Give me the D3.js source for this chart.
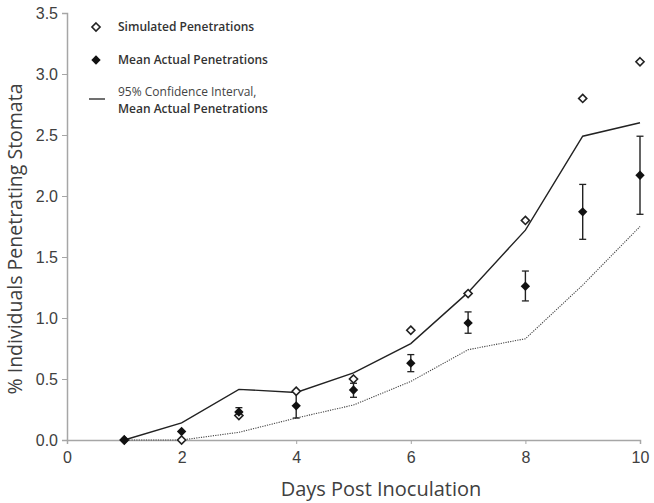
<!DOCTYPE html>
<html>
<head>
<meta charset="utf-8">
<script src="https://cdn.jsdelivr.net/npm/d3@7"></script>
<style>
  html, body { margin: 0; padding: 0; background: #fff; }
  svg { display: block; font-family: "Open Sans", "Noto Sans", sans-serif; }
</style>
</head>
<body>
<svg id="chart" width="654" height="503"></svg>
<script>
// data
const days = [1, 2, 3, 4, 5, 6, 7, 8, 9, 10];
const simulated = [0, 0, 0.20, 0.40, 0.50, 0.90, 1.20, 1.80, 2.80, 3.10];
const actualMean = [0, 0.07, 0.23, 0.28, 0.41, 0.63, 0.96, 1.26, 1.87, 2.17];
const actualLow = [0, 0.07, 0.20, 0.18, 0.35, 0.56, 0.875, 1.14, 1.645, 1.85];
const actualHigh = [0, 0.07, 0.265, 0.40, 0.465, 0.70, 1.05, 1.385, 2.095, 2.49];
const ciUpper = [0, 0.14, 0.415, 0.39, 0.55, 0.79, 1.21, 1.72, 2.49, 2.60];
const ciLower = [0, 0, 0.063, 0.18, 0.287, 0.48, 0.74, 0.83, 1.27, 1.75];
const xTicks = [0, 2, 4, 6, 8, 10];
const yTicks = [0, 0.5, 1, 1.5, 2, 2.5, 3, 3.5];

const svg = d3.select('#chart');
const margin = { top: 13, right: 14, bottom: 63, left: 67 };
const width = 654 - margin.left - margin.right;
const height = 503 - margin.top - margin.bottom;

const x = d3.scaleLinear().domain([0, 10]).range([0, width]);
const y = d3.scaleLinear().domain([0, 3.5]).range([height, 0]);

const g = svg.append('g').attr('transform', `translate(${margin.left},${margin.top})`);

const axisColor = '#a6a6a6';
const textColor = '#404040';

// axes
const xAxis = g.append('g')
  .attr('transform', `translate(0,${height})`)
  .call(d3.axisBottom(x).tickValues(xTicks).tickSize(4).tickPadding(8).tickFormat(d3.format('d')));
const yAxis = g.append('g')
  .call(d3.axisLeft(y).tickValues(yTicks).tickSize(5).tickPadding(4).tickFormat(d3.format('.1f')));

[xAxis, yAxis].forEach(a => {
  a.select('.domain').attr('stroke', axisColor).attr('stroke-width', 1.5);
  a.selectAll('.tick line').attr('stroke', axisColor);
  a.selectAll('.tick text')
    .attr('fill', textColor)
    .style('font-size', '16px');
});

// axis titles
svg.append('text')
  .attr('x', 381).attr('y', 496)
  .attr('text-anchor', 'middle')
  .attr('fill', textColor)
  .style('font-size', '20px')
  .text('Days Post Inoculation');

svg.append('text')
  .attr('transform', 'translate(22,239) rotate(-90)')
  .attr('text-anchor', 'middle')
  .attr('fill', textColor)
  .style('font-size', '19.5px')
  .text('% Individuals Penetrating Stomata');

// confidence interval lines
const line = d3.line().x(d => x(d[0])).y(d => y(d[1]));

g.append('path')
  .datum(days.map((d, i) => [d, ciUpper[i]]))
  .attr('d', line)
  .attr('fill', 'none')
  .attr('stroke', '#222')
  .attr('stroke-width', 1.4);

g.append('path')
  .datum(days.map((d, i) => [d, ciLower[i]]))
  .attr('d', line)
  .attr('fill', 'none')
  .attr('stroke', '#444')
  .attr('stroke-width', 1.1)
  .attr('stroke-dasharray', '1.2,1.2');

// error bars
const bars = g.append('g');
days.forEach((d, i) => {
  if (actualHigh[i] - actualLow[i] <= 0) return;
  const cx = x(d);
  bars.append('line')
    .attr('x1', cx).attr('x2', cx)
    .attr('y1', y(actualLow[i])).attr('y2', y(actualHigh[i]))
    .attr('stroke', '#222').attr('stroke-width', 1.4);
  [actualLow[i], actualHigh[i]].forEach(v => {
    bars.append('line')
      .attr('x1', cx - 3.5).attr('x2', cx + 3.5)
      .attr('y1', y(v)).attr('y2', y(v))
      .attr('stroke', '#222').attr('stroke-width', 1.3);
  });
});

const openDiamond = d3.symbol().type(d3.symbolDiamond2).size(42);
const solidDiamond = d3.symbol().type(d3.symbolDiamond2).size(56);

// simulated (open diamonds)
g.append('g').selectAll('path')
  .data(days.map((d, i) => [d, simulated[i]]))
  .join('path')
  .attr('d', openDiamond)
  .attr('transform', d => `translate(${x(d[0])},${y(d[1])})`)
  .attr('fill', '#fff')
  .attr('stroke', '#222')
  .attr('stroke-width', 1.6);

// actual (filled diamonds)
g.append('g').selectAll('path')
  .data(days.map((d, i) => [d, actualMean[i]]))
  .join('path')
  .attr('d', solidDiamond)
  .attr('transform', d => `translate(${x(d[0])},${y(d[1])})`)
  .attr('fill', '#111');

// legend
const legend = svg.append('g');
legend.append('path')
  .attr('d', openDiamond)
  .attr('transform', 'translate(96,27)')
  .attr('fill', '#fff').attr('stroke', '#222').attr('stroke-width', 1.6);
legend.append('text')
  .attr('x', 118).attr('y', 31)
  .style('font-size', '12px').style('font-weight', 600)
  .attr('fill', '#333')
  .text('Simulated Penetrations');

legend.append('path')
  .attr('d', solidDiamond)
  .attr('transform', 'translate(96,60)')
  .attr('fill', '#111');
legend.append('text')
  .attr('x', 118).attr('y', 64)
  .style('font-size', '12px').style('font-weight', 600)
  .attr('fill', '#333')
  .text('Mean Actual Penetrations');

legend.append('line')
  .attr('x1', 89).attr('x2', 105)
  .attr('y1', 99).attr('y2', 99)
  .attr('stroke', '#222').attr('stroke-width', 1.3);
legend.append('text')
  .attr('x', 118).attr('y', 96)
  .style('font-size', '12px')
  .attr('fill', '#444')
  .text('95% Confidence Interval,');
legend.append('text')
  .attr('x', 118).attr('y', 113)
  .style('font-size', '12px').style('font-weight', 600)
  .attr('fill', '#333')
  .text('Mean Actual Penetrations');
</script>
</body>
</html>
